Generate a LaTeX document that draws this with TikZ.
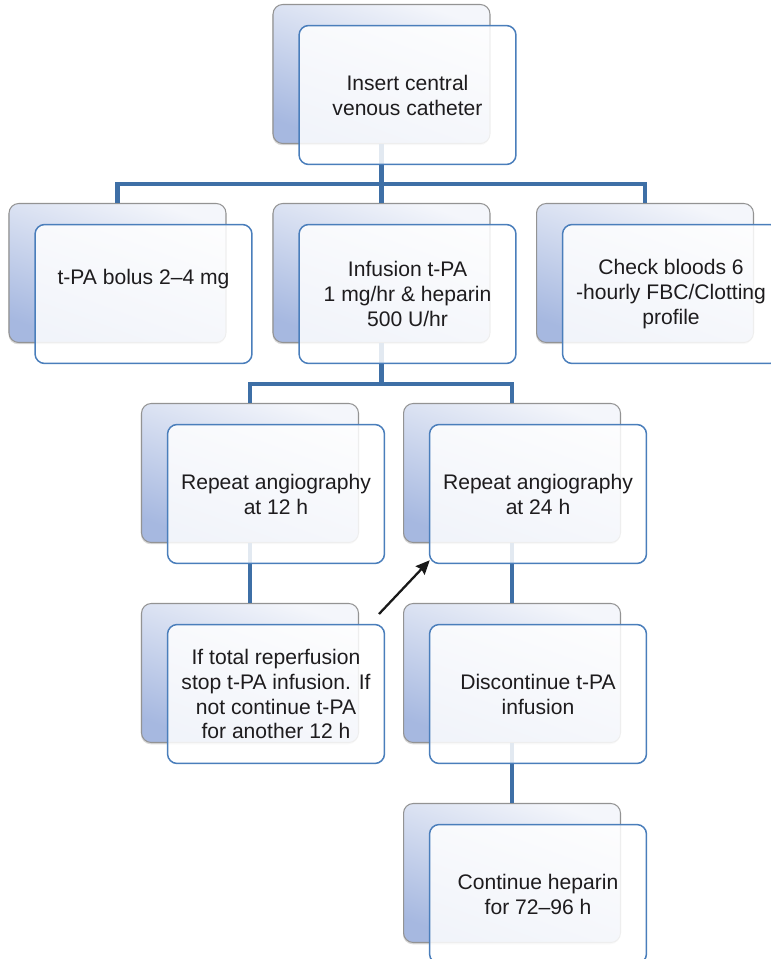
\documentclass[tikz,border=0pt]{standalone}
\usepackage{fontspec}
\setmainfont{Liberation Sans}
\usepackage{tikz}
\usetikzlibrary{arrows.meta, positioning, calc, shadows}
\definecolor{linkblue}{RGB}{62,111,166}
\definecolor{edgeblue}{RGB}{74,126,187}
\definecolor{shadetop}{RGB}{244,246,251}
\definecolor{shadebot}{RGB}{166,184,224}
\definecolor{inktext}{RGB}{30,28,30}
\tikzset{
  backbox/.style = {
    rectangle, rounded corners=5.5pt, draw=gray!85, line width=0.6pt,
    top color=shadetop, bottom color=shadebot, shading angle=-20,
    drop shadow={shadow xshift=-0.3pt, shadow yshift=-1pt, opacity=0.3},
    minimum width=4.34cm, minimum height=2.78cm, inner sep=0pt
  },
  frontbox/.style = {
    rectangle, rounded corners=5.5pt, draw=edgeblue, line width=0.85pt,
    fill=white, fill opacity=0.85, text opacity=1, text=inktext,
    minimum width=4.34cm, minimum height=2.78cm, inner sep=2pt,
    align=center, font=\fontsize{12}{14.2}\selectfont
  },
  boxtext/.style = {text=inktext, align=center, font=\fontsize{12}{14.2}\selectfont},
  link/.style = {draw=linkblue, line width=2.8pt},
  jumparrow/.style = {-{Stealth[length=8pt, width=7pt, inset=1pt]}, line width=1.3pt, black!90}
}

\begin{document}
\begin{tikzpicture}[x=0.02cm, y=-0.02cm]
  \useasboundingbox (0,0) rectangle (770,959);
  % Back cards
  \node[backbox] (catheterB) at (381.5,74)  {};
  \node[backbox] (bolusB)    at (117.5,273) {};
  \node[backbox] (infusionB) at (381.5,273) {};
  \node[backbox] (bloodsB)   at (645,273)   {};
  \node[backbox] (angio12B)  at (250,473)   {};
  \node[backbox] (angio24B)  at (512,473)   {};
  \node[backbox] (reperfB)   at (250,673)   {};
  \node[backbox] (discontB)  at (512,673)   {};
  \node[backbox] (heparinB)  at (512,873)   {};
  % Connectors
  \coordinate (split1) at (381.5,184);
  \coordinate (split2) at (381.5,384);
  \draw[link] (catheterB.south) -- (split1);
  \draw[link] (bolusB.north) |- (split1) -| (bloodsB.north);
  \draw[link] (split1) -- (infusionB.north);
  \draw[link] (infusionB.south) -- (split2);
  \draw[link] (angio12B.north) |- (split2) -| (angio24B.north);
  \draw[link] (angio12B.south) -- (reperfB.north);
  \draw[link] (angio24B.south) -- (discontB.north);
  \draw[link] (discontB.south) -- (heparinB.north);
  % Front cards
  \node[frontbox] (catheter) at ([shift={(26,21)}]catheterB.center) {Insert central\\venous catheter};
  \node[frontbox] (bolus)    at ([shift={(26,21)}]bolusB.center)    {};
  \node[boxtext]  (bolustxt) at ([shift={(0,-15)}]bolus.center)     {t-PA bolus 2--4 mg};
  \node[frontbox] (infusion) at ([shift={(26,21)}]infusionB.center) {Infusion t-PA\\1 mg/hr \& heparin\\500 U/hr};
  \node[frontbox] (bloods)   at ([shift={(26,21)}]bloodsB.center)   {Check bloods 6\\-hourly FBC/Clotting\\profile};
  \node[frontbox] (angio12)  at ([shift={(26,21)}]angio12B.center)  {Repeat angiography\\at 12 h};
  \node[frontbox] (angio24)  at ([shift={(26,21)}]angio24B.center)  {Repeat angiography\\at 24 h};
  \node[frontbox] (reperf)   at ([shift={(26,21)}]reperfB.center)   {If total reperfusion\\stop t-PA infusion. If\\not continue t-PA\\for another 12 h};
  \node[frontbox] (discont)  at ([shift={(26,21)}]discontB.center)  {Discontinue t-PA\\infusion};
  \node[frontbox] (heparin)  at ([shift={(26,21)}]heparinB.center)  {Continue heparin\\for 72--96 h};
  % Back-link arrow
  \coordinate (jumpstart) at (379,614);
  \draw[jumparrow] (jumpstart) -- ($(angio24.south west)+(1,-4)$);
\end{tikzpicture}
\end{document}
